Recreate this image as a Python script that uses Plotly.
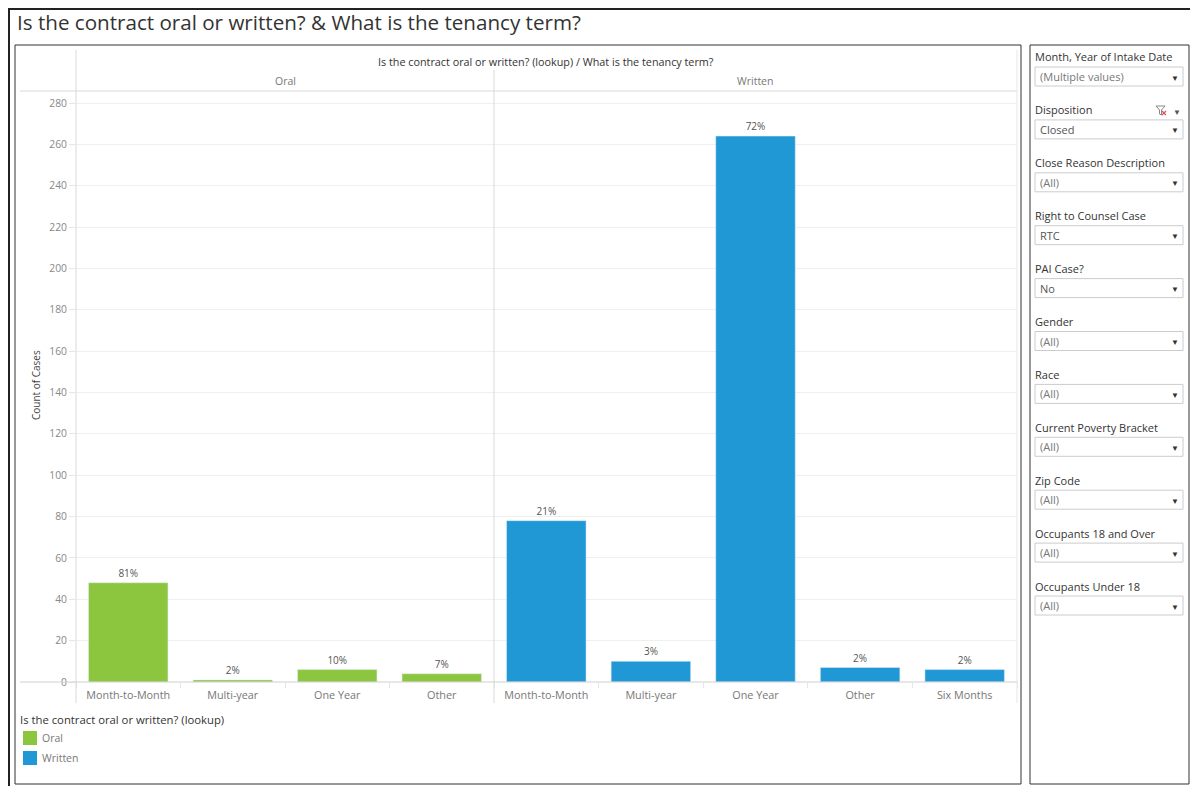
import plotly.graph_objects as go

# ---------------- data ----------------
oral_terms = ["Month-to-Month", "Multi-year", "One Year", "Other"]
oral_counts = [48, 1, 6, 4]
written_terms = ["Month-to-Month", "Multi-year", "One Year", "Other", "Six Months"]
written_counts = [78, 10, 264, 7, 6]
y_ticks = list(range(0, 281, 20))

filter_labels = ["Month, Year of Intake Date", "Disposition", "Close Reason Description",
                 "Right to Counsel Case", "PAI Case?", "Gender", "Race",
                 "Current Poverty Bracket", "Zip Code", "Occupants 18 and Over",
                 "Occupants Under 18"]
filter_values = ["(Multiple values)", "Closed", "(All)", "RTC", "No", "(All)", "(All)",
                 "(All)", "(All)", "(All)", "(All)"]

GREEN = "#8cc63f"
BLUE = "#1f98d5"
FONT = "Open Sans"

def pct(vals):
    s = sum(vals)
    return [f"{round(v / s * 100)}%" for v in vals]

# ---------------- geometry helpers (page pixel coords; page body has 8px margin) ----------------
OFF = 8
W, H = 1198 - OFF, 786 - OFF
PL, PR, PT, PB = 76, 1017, 91, 682          # plot area in page coords
L, T = PL - OFF, PT - OFF
R, B = W - (PR - OFF), H - (PB - OFF)
PW, PH = PR - PL, PB - PT
def X(px):
    return (px - PL) / PW
def Y(py):
    return (PB - py) / PH

split = (494 - PL) / PW
ymax = (682 - 91) / ((682 - 103) / 280)

fig = go.Figure()
fig.add_trace(go.Bar(x=oral_terms, y=oral_counts, marker_color=GREEN,
                     text=pct(oral_counts), textposition="outside",
                     textfont=dict(size=10, color="#555", family=FONT),
                     cliponaxis=False, xaxis="x", yaxis="y", name="Oral",
                     hovertemplate="%{x}: %{y}<extra>Oral</extra>"))
fig.add_trace(go.Bar(x=written_terms, y=written_counts, marker_color=BLUE,
                     text=pct(written_counts), textposition="outside",
                     textfont=dict(size=10, color="#555", family=FONT),
                     cliponaxis=False, xaxis="x2", yaxis="y", name="Written",
                     hovertemplate="%{x}: %{y}<extra>Written</extra>"))

xcommon = dict(showgrid=False, zeroline=False, showline=False, ticks="outside",
               tickson="boundaries", ticklen=5, tickcolor="#e6e6e6", ticklabelstandoff=5,
               tickfont=dict(size=10.8, color="#777", family=FONT), fixedrange=True)
fig.update_layout(
    width=W, height=H,
    margin=dict(l=L, r=R, t=T, b=B, pad=0),
    paper_bgcolor="white", plot_bgcolor="white",
    showlegend=False, bargap=0.24,
    font=dict(family=FONT),
    xaxis=dict(domain=[0, split], anchor="y", **xcommon),
    xaxis2=dict(domain=[split, 1], anchor="y", **xcommon),
    yaxis=dict(range=[0, ymax], tickvals=y_ticks, showgrid=True, gridcolor="#efefef",
               zeroline=False, showline=False, ticks="outside", ticklen=6,
               tickcolor="#e6e6e6", tickfont=dict(size=10.3, color="#888", family=FONT),
               fixedrange=True),
)

shapes = []
anns = []
def line(x0, y0, x1, y1, color, width=1):
    shapes.append(dict(type="line", xref="paper", yref="paper", x0=X(x0), y0=Y(y0),
                       x1=X(x1), y1=Y(y1), line=dict(color=color, width=width)))
def rect(x0, y0, x1, y1, line_color=None, fill=None, width=1):
    shapes.append(dict(type="rect", xref="paper", yref="paper", x0=X(x0), y0=Y(y0),
                       x1=X(x1), y1=Y(y1), fillcolor=fill or "rgba(0,0,0,0)",
                       line=dict(color=line_color or "rgba(0,0,0,0)", width=width)))
def text(x, y, s, size, color, xanchor="left", angle=0):
    anns.append(dict(xref="paper", yref="paper", x=X(x), y=Y(y), text=s, showarrow=False,
                     xanchor=xanchor, yanchor="middle", textangle=angle,
                     font=dict(size=size, color=color, family=FONT)))

# outer dashboard frame
line(8, 9, 1198, 9, "#222", 2)
line(9, 9, 9, 786, "#222", 2)
# containers
rect(15, 45, 1021, 784, "#333", None, 1)
rect(1030, 45, 1189, 784, "#333", None, 1)

# chart structure lines
line(20, 91, 1017, 91, "#d9d9d9")
line(76, 50, 76, 703, "#d9d9d9")
line(494, 70, 494, 703, "#d9d9d9")
line(1017, 50, 1017, 703, "#e6e6e6")
line(20, 682, 1017, 682, "#cfcfcf")

# title & headers
text(15, 22, "Is the contract oral or written? & What is the tenancy term?", 20.6, "#333")
text(546, 61, "Is the contract oral or written? (lookup) / What is the tenancy term?", 10.8, "#333", "center")
text(285, 81, "Oral", 10.5, "#777", "center")
text(755, 81, "Written", 10.5, "#777", "center")
text(36, 385, "Count of Cases", 10, "#444", "center", -90)

# legend
text(18, 719, "Is the contract oral or written? (lookup)", 11.3, "#333")
rect(23, 731, 37, 745, None, GREEN)
rect(23, 751, 37, 765, None, BLUE)
text(40, 738, "Oral", 10.5, "#777")
text(40, 758, "Written", 10.5, "#777")

# filter panel
for i, (lab, val) in enumerate(zip(filter_labels, filter_values)):
    ly = 57 + i * 52.9
    by = ly + 10
    text(1033, ly, lab, 11, "#333")
    rect(1035, by, 1183, by + 19, "#cccccc", "white")
    vcol = "#555" if val not in ("(All)", "(Multiple values)") else "#777"
    text(1038, by + 9.5, val, 11, vcol)
    text(1175, by + 10, "▼", 8, "#333", "center")

# filter-clear icon next to Disposition
fx, fy = 1156, 106
path = (f"M {X(fx)},{Y(fy)} L {X(fx+9)},{Y(fy)} L {X(fx+5.5)},{Y(fy+4)} "
        f"L {X(fx+5.5)},{Y(fy+9)} L {X(fx+3.5)},{Y(fy+8)} L {X(fx+3.5)},{Y(fy+4)} Z")
shapes.append(dict(type="path", xref="paper", yref="paper", path=path,
                   line=dict(color="#888", width=1)))
line(fx + 6, fy + 5, fx + 10, fy + 9, "#e05555", 1.2)
line(fx + 10, fy + 5, fx + 6, fy + 9, "#e05555", 1.2)
text(1177, 111, "▼", 8, "#555", "center")

fig.update_layout(shapes=shapes, annotations=anns)
fig.write_html("out.html")
